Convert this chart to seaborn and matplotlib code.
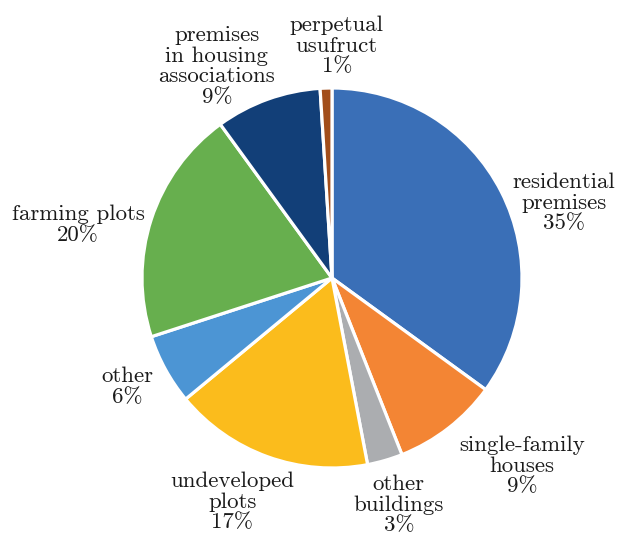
import numpy as np
import matplotlib
matplotlib.use("Agg")
import matplotlib.pyplot as plt
import seaborn as sns

sns.set_theme(style="white")
plt.rcParams['font.family'] = ['cmr10', 'DejaVu Serif']

categories = ["residential\npremises", "single-family\nhouses", "other\nbuildings",
              "undeveloped\nplots", "other", "farming plots",
              "premises\nin housing\nassociations", "perpetual\nusufruct"]
values = [35, 9, 3, 17, 6, 20, 9, 1]
colors = ["#3A6FB7", "#F38534", "#ABADB0", "#FBBC1C", "#4C95D4", "#67AF4E", "#123F78", "#A24E1B"]
# label placement (angle offset deg, radius) - styling only
label_angle_off = [-9.1, 7.5, 0.2, -4.2, -0.8, 6.2, 8.7, -3.0]
label_radius = [1.283, 1.407, 1.245, 1.29, 1.222, 1.366, 1.269, 1.22]

fig = plt.figure(figsize=(6.18, 5.39), dpi=100)
cx, cy, R = 332, 278, 190
ax = fig.add_axes([(cx - R) / 618, (539 - cy - R) / 539, 2 * R / 618, 2 * R / 539])
wedges, _ = ax.pie(values, colors=colors, startangle=90, counterclock=False,
                   radius=1.0, wedgeprops=dict(edgecolor="white", linewidth=2.3))
ax.set_xlim(-1, 1)
ax.set_ylim(-1, 1)
ax.set_aspect("equal")
ax.axis("off")

for w, cat, v, da, r in zip(wedges, categories, values, label_angle_off, label_radius):
    mid = np.deg2rad((w.theta1 + w.theta2) / 2 + da)
    ax.text(r * np.cos(mid), r * np.sin(mid), f"{cat}\n{v}%", ha="center", va="center",
            fontsize=16.5, color="#1a1a1a", linespacing=1.07)

fig.savefig("out.png", dpi=100)
